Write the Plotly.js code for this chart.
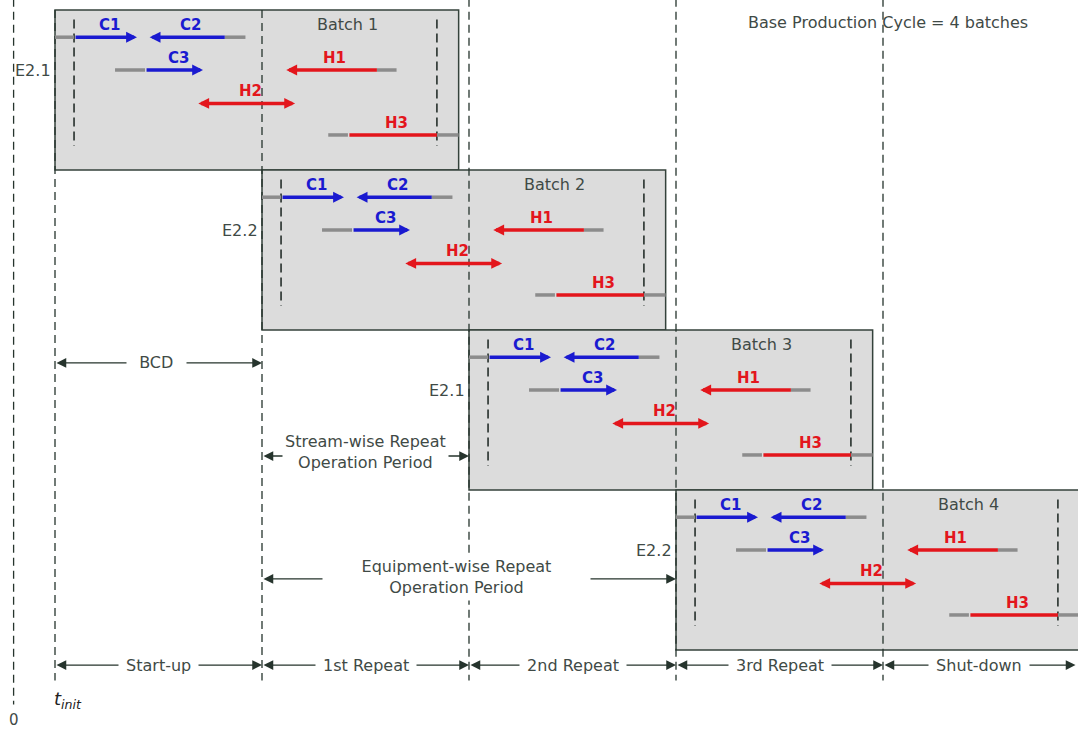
<!DOCTYPE html>
<html><head><meta charset="utf-8">
<script src="https://cdn.plot.ly/plotly-3.0.1.min.js"></script>
<style>html,body{margin:0;padding:0;background:#fff}#chart{width:1078px;height:730px}</style>
</head><body><div id="chart"></div>
<script>
// ---------------- data (time unit: one batch cycle duration BCD = 10) ----------------
const batchNames = ['Batch 1', 'Batch 2', 'Batch 3', 'Batch 4'];
const batchStart = [0, 10, 20, 30];
const batchDuration = 19.5;
const equipmentUnits = ['E2.1', 'E2.2', 'E2.1', 'E2.2'];

const streams = ['C1', 'C2', 'C3', 'H1', 'H2', 'H3'];
const streamType = ['cold', 'cold', 'cold', 'hot', 'hot', 'hot'];
const streamRow = [0, 0, 1, 1, 2, 3];
const idleBefore = [0, null, 2.9, null, null, 13.2];     // grey segment start
const activeStart = [0.92, 4.5, 4.35, 11.1, 6.85, 14.15];
const activeEnd = [3.96, 8.2, 7.15, 15.55, 11.6, 18.45];
const idleAfter = [null, 9.2, null, 16.5, null, 19.5];    // grey segment end
const arrowSide = ['end', 'start', 'end', 'start', 'end+start', 'none'];

const phaseNames = ['Start-up', '1st Repeat', '2nd Repeat', '3rd Repeat', 'Shut-down'];
const phaseStart = [0, 10, 20, 30, 40];
const phaseEnd = [10, 20, 30, 40, 49.3];
const timeOrigin = -2;
const cycleText = 'Base Production Cycle = 4 batches';

// ---------------- drawing ----------------
const rowOffset = [0.17, 0.375, 0.584, 0.781];
const lineCol = '#26342d', txtCol = '#3f4a46';
const colorFor = {cold: '#1a1ad0', hot: '#e3161c'};
const idleCol = '#8c8c8c';
const FONT = 'DejaVu Sans';
const traces = [], ann = [], shapes = [];

batchStart.forEach((s, b) => {
  shapes.push({type: 'rect', xref: 'x', yref: 'y', x0: s, x1: s + batchDuration, y0: b, y1: b + 1,
    fillcolor: '#dcdcdc', line: {color: '#34423b', width: 1.5}, layer: 'below'});
});

// period boundary dashed lines
const vx = [], vy = [];
phaseStart.forEach(p => { vx.push(p, p, null); vy.push(p < 20 ? 0 : -0.07, 4.19, null); });
vx.push(timeOrigin, timeOrigin, null); vy.push(-0.07, 4.34, null);
traces.push({x: vx, y: vy, mode: 'lines', line: {color: lineCol, width: 1.3, dash: '8px,5px'}, hoverinfo: 'skip'});

// inner dashed lines of each batch
const ix = [], iy = [];
batchStart.forEach((s, b) => {
  [activeStart[0], activeEnd[activeEnd.length - 1]].forEach(t => {
    ix.push(s + t, s + t, null); iy.push(b + 0.06, b + 0.85, null);
  });
});
traces.push({x: ix, y: iy, mode: 'lines', line: {color: '#1a2420', width: 1.5, dash: '9px,5px'}, hoverinfo: 'skip'});

// grey idle segments
const gx = [], gy = [];
batchStart.forEach((s, b) => {
  streams.forEach((n, i) => {
    const y = b + rowOffset[streamRow[i]];
    if (idleBefore[i] !== null) { gx.push(s + idleBefore[i], s + activeStart[i], null); gy.push(y, y, null); }
    if (idleAfter[i] !== null) { gx.push(s + activeEnd[i], s + idleAfter[i], null); gy.push(y, y, null); }
  });
});
traces.push({x: gx, y: gy, mode: 'lines', line: {color: idleCol, width: 3.5}, hoverinfo: 'skip'});

// coloured active arrows + labels
batchStart.forEach((s, b) => {
  streams.forEach((n, i) => {
    const y = b + rowOffset[streamRow[i]];
    const col = colorFor[streamType[i]];
    ann.push({x: s + activeEnd[i], y: y, ax: s + activeStart[i], ay: y, xref: 'x', yref: 'y', axref: 'x', ayref: 'y',
      text: '', showarrow: true, arrowside: arrowSide[i], arrowhead: 2, startarrowhead: 2,
      arrowsize: 0.62, startarrowsize: 0.62, arrowwidth: 3.5, arrowcolor: col, standoff: 0, startstandoff: 0});
    ann.push({x: s + (activeStart[i] + activeEnd[i]) / 2 + 0.2, y: y, yshift: 12, xref: 'x', yref: 'y',
      text: '<b>' + n + '</b>', showarrow: false, font: {family: FONT, size: 15, color: col}});
  });
  ann.push({x: s + 14.15, y: b + 0.0875, xref: 'x', yref: 'y', text: batchNames[b], showarrow: false,
    font: {family: FONT, size: 16, color: txtCol}});
  ann.push({x: s, y: b + rowOffset[1], xref: 'x', yref: 'y', xanchor: 'right', xshift: -2, text: equipmentUnits[b],
    showarrow: false, font: {family: FONT, size: 16, color: txtCol}});
});

function dimArrow(x0, x1, y) {
  ann.push({x: x1, y: y, ax: x0, ay: y, xref: 'x', yref: 'y', axref: 'x', ayref: 'y', text: '', showarrow: true,
    arrowside: 'end+start', arrowhead: 2, startarrowhead: 2, arrowsize: 1.5, startarrowsize: 1.5,
    arrowwidth: 1.3, arrowcolor: lineCol, standoff: 0, startstandoff: 0});
}
function dimText(x, y, text, pad) {
  ann.push({x: x, y: y, xref: 'x', yref: 'y', text: text, showarrow: false, bgcolor: '#ffffff', borderpad: pad,
    font: {family: FONT, size: 16, color: txtCol}});
}
const nb = k => '\u00a0'.repeat(k);

// BCD
dimArrow(phaseStart[0], phaseStart[1], 2.206);
dimText(4.88, 2.206, nb(2) + 'BCD' + nb(2), 2);
// stream-wise
dimArrow(phaseStart[1], phaseStart[2], 2.7875);
dimText(14.98, 2.7625, 'Stream-wise Repeat<br>Operation Period', 2);
// equipment-wise
dimArrow(phaseStart[1], phaseStart[3], 3.556);
dimText(19.4, 3.545, nb(7) + 'Equipment-wise Repeat' + nb(7) + '<br>Operation Period', 3);
// phases
phaseNames.forEach((n, k) => {
  dimArrow(phaseStart[k], phaseEnd[k], 4.094);
  dimText((phaseStart[k] + phaseEnd[k]) / 2, 4.094, nb(1) + n + nb(1), 2);
});

ann.push({x: 0, y: 4.3125, xref: 'x', yref: 'y', xanchor: 'left', xshift: -3, text: '<i>t<sub>init</sub></i>',
  showarrow: false, font: {family: FONT, size: 18, color: '#222'}});
ann.push({x: timeOrigin, y: 4.4375, xref: 'x', yref: 'y', text: '0', showarrow: false,
  font: {family: FONT, size: 15, color: txtCol}});
ann.push({x: 40.24, y: 0.08, xref: 'x', yref: 'y', text: cycleText, showarrow: false,
  font: {family: FONT, size: 16, color: txtCol}});

traces.forEach(t => { t.showlegend = false; });

const layout = {
  width: 1078, height: 730, margin: {l: 0, r: 0, t: 0, b: 0},
  paper_bgcolor: '#ffffff', plot_bgcolor: '#ffffff',
  xaxis: {range: [-2.657, 49.42], visible: false},
  yaxis: {range: [4.5, -0.0625], visible: false},
  showlegend: false, shapes: shapes, annotations: ann,
  font: {family: FONT, color: txtCol}
};
Plotly.newPlot('chart', traces, layout, {staticPlot: true});
</script></body></html>
